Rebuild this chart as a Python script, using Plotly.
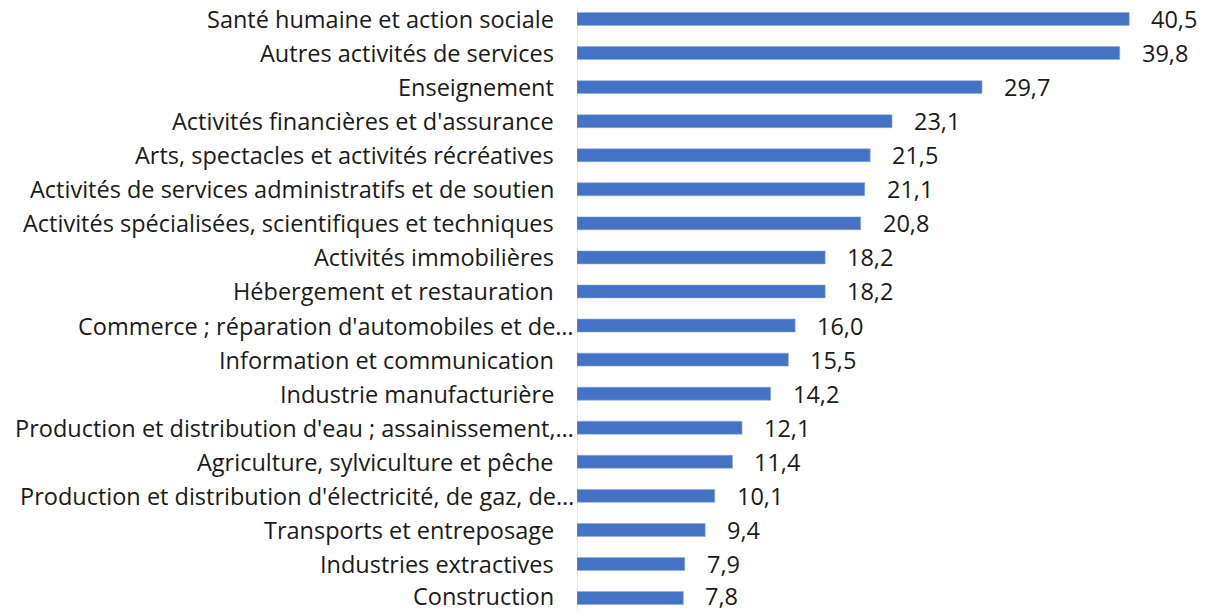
import plotly.graph_objects as go

# Sectors, top to bottom, with their shares (%)
categories = [
    "Santé humaine et action sociale",
    "Autres activités de services",
    "Enseignement",
    "Activités financières et d'assurance",
    "Arts, spectacles et activités récréatives",
    "Activités de services administratifs et de soutien",
    "Activités spécialisées, scientifiques et techniques",
    "Activités immobilières",
    "Hébergement et restauration",
    "Commerce ; réparation d'automobiles et de…",
    "Information et communication",
    "Industrie manufacturière",
    "Production et distribution d'eau ; assainissement,…",
    "Agriculture, sylviculture et pêche",
    "Production et distribution d'électricité, de gaz, de…",
    "Transports et entreposage",
    "Industries extractives",
    "Construction",
]
values = [40.5, 39.8, 29.7, 23.1, 21.5, 21.1, 20.8, 18.2, 18.2, 16.0,
          15.5, 14.2, 12.1, 11.4, 10.1, 9.4, 7.9, 7.8]

FONT = "Open Sans"
FONT_SIZE = 23.5
TEXT_COLOR = "#1a1a1a"
BAR_COLOR = "#4472C4"

fig = go.Figure()
fig.add_trace(go.Bar(
    x=values,
    y=categories,
    orientation="h",
    width=0.38,
    marker=dict(color=BAR_COLOR, line=dict(color="#8FAADC", width=0.6)),
    hoverinfo="skip",
))

annotations = []
last = categories[-1]
for cat, v in zip(categories, values):
    # keep the bottom row's text box inside the page
    dy = 2 if cat == last else 0
    # value labels to the right of each bar, French decimal comma
    annotations.append(dict(
        x=v, y=cat, xref="x", yref="y",
        text=f"{v:.1f}".replace(".", ","),
        showarrow=False, xanchor="left", xshift=20, yshift=dy,
        font=dict(family=FONT, size=FONT_SIZE, color=TEXT_COLOR),
    ))
    # category labels; truncated names run up to the axis line
    truncated = cat.endswith("…")
    annotations.append(dict(
        x=0, y=cat, xref="x", yref="y",
        text=cat, showarrow=False, xanchor="right",
        xshift=-1 if truncated else -21, yshift=dy,
        font=dict(family=FONT, size=FONT_SIZE, color=TEXT_COLOR),
    ))

fig.update_layout(
    width=1222, height=612,
    margin=dict(l=577, r=0, t=0, b=0),
    paper_bgcolor="white", plot_bgcolor="white",
    showlegend=False,
    annotations=annotations,
    shapes=[dict(
        type="line", xref="x", yref="paper",
        x0=0, x1=0, y0=0, y1=1 - 8 / 612,
        line=dict(color="#D9D9D9", width=1.3),
        layer="below",
    )],
    xaxis=dict(range=[0, 47.3], visible=False, fixedrange=True),
    yaxis=dict(
        type="category",
        categoryorder="array", categoryarray=categories,
        range=[17.41, -0.558],
        showticklabels=False, showgrid=False, zeroline=False, showline=False,
        fixedrange=True,
    ),
)

fig.write_html("out.html")
